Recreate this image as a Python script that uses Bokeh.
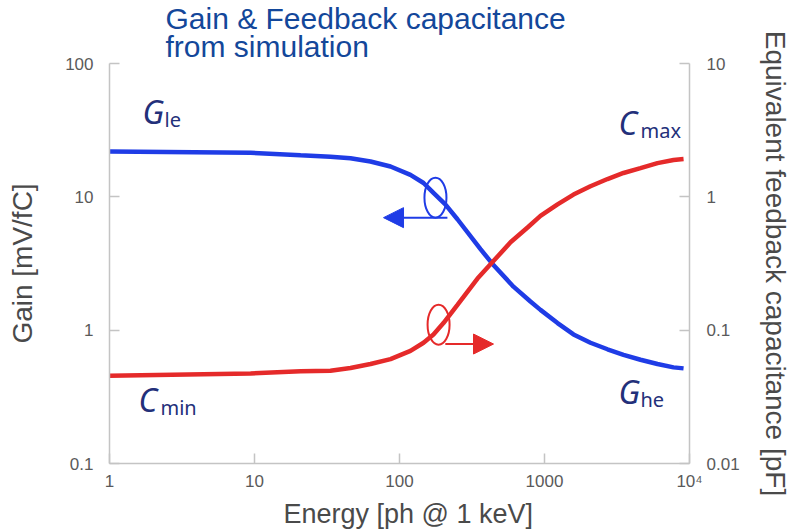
from bokeh.plotting import figure
from bokeh.models import (LogAxis, Range1d, FixedTicker, Label, Arrow, NormalHead,
                          LogScale, CustomJSTickFormatter, Title)
from bokeh.embed import file_html
from bokeh.resources import INLINE

# ---------------- data ----------------
energy_gain = [1, 9.4, 20.8, 33.4, 45.9, 63.1, 86.7, 119, 146.5, 171.5, 207, 251, 362,
               438, 611, 800, 938, 1230, 1585, 2075, 2718, 3506, 4592, 6012, 7762, 9100]
gain = [21.9, 21.4, 20.5, 20.0, 19.5, 18.4, 16.9, 14.6, 12.7, 10.7, 8.77, 6.79, 4.05,
        3.14, 2.12, 1.64, 1.42, 1.13, 0.929, 0.805, 0.719, 0.653, 0.600, 0.557, 0.526,
        0.517]

energy_cap = [1, 9.4, 20.8, 33.4, 45.9, 63.1, 86.7, 119, 146.5, 171.5, 201, 251, 345,
              438, 583, 764, 938, 1230, 1585, 2075, 2718, 3506, 4592, 6012, 7762, 9100]
cap = [0.0456, 0.0474, 0.0491, 0.0497, 0.0520, 0.0557, 0.0607, 0.0699, 0.0805, 0.0929,
       0.113, 0.155, 0.244, 0.324, 0.456, 0.589, 0.719, 0.877, 1.04, 1.20, 1.36, 1.51,
       1.64, 1.79, 1.89, 1.92]

x_ticks = [1, 10, 100, 1000, 10000]
gain_ticks = [0.1, 1, 10, 100]
cap_ticks = [0.01, 0.1, 1, 10]

title_text = "Gain & Feedback capacitance\nfrom simulation"
x_title = "Energy [ph @ 1 keV]"
y_title = "Gain [mV/fC]"
y2_title = "Equivalent feedback capacitance [pF]"

# annotation markers (ellipse centres / arrows) in data units
gain_marker = dict(x=177, y=9.85)
gain_arrow = dict(x_start=214, x_end=77.6, y=6.98)
cap_marker = dict(x=186, y=0.11)
cap_arrow = dict(x_start=207, x_end=445, y=0.0787)

# ---------------- styles ----------------
BLUE = "#1f3ce6"
RED = "#e52a2a"
NAVY = "#23307a"
TITLE_C = "#13479a"
AX_C = "#c4c4c4"
TICK_TXT = "#5a5a5a"
LBL_TXT = "#4a4a4a"
FONT = "Liberation Sans"

p = figure(width=794, height=531, x_axis_type="log", y_axis_type="log",
           x_range=Range1d(1, 10000), y_range=Range1d(0.1, 100),
           output_backend="svg", toolbar_location=None,
           min_border_left=109, min_border_right=105, min_border_top=59,
           min_border_bottom=67)
p.title.visible = False
p.xgrid.visible = False
p.ygrid.visible = False
p.outline_line_color = None
p.background_fill_color = "white"
p.border_fill_color = "white"

p.extra_y_ranges = {"cap": Range1d(0.01, 10)}
p.extra_y_scales = {"cap": LogScale()}
rax = LogAxis(y_range_name="cap")
p.add_layout(rax, "right")

fmt_code = "return tick >= 10000 ? '10\u2074' : String(tick);"

def style_axis(ax, ticks):
    ax.ticker = FixedTicker(ticks=ticks)
    ax.formatter = CustomJSTickFormatter(code=fmt_code)
    ax.axis_line_color = AX_C
    ax.axis_line_width = 1.5
    ax.major_tick_line_color = AX_C
    ax.major_tick_line_width = 1.5
    ax.major_tick_in = 10
    ax.major_tick_out = 0
    ax.minor_tick_line_color = None
    ax.major_label_text_font = FONT
    ax.major_label_text_font_size = "17px"
    ax.major_label_text_color = TICK_TXT
    ax.axis_label_text_font = FONT
    ax.axis_label_text_font_size = "28px"
    ax.axis_label_text_font_style = "normal"
    ax.axis_label_text_color = LBL_TXT

style_axis(p.xaxis[0], x_ticks)
p.xaxis[0].major_label_standoff = 8
style_axis(p.yaxis[0], gain_ticks)
p.yaxis[0].major_label_standoff = 16
p.yaxis[0].axis_label = y_title
p.yaxis[0].axis_label_standoff = 24
style_axis(rax, cap_ticks)
rax.major_label_standoff = 17
rax.axis_label = y2_title
rax.axis_label_standoff = 17

# titles (top title and x-axis title)
p.add_layout(Title(text=title_text, align="left", offset=56, standoff=0,
                   text_font=FONT, text_font_size="30px", text_font_style="normal",
                   text_color=TITLE_C, text_line_height=0.85), "above")
p.add_layout(Title(text=x_title, align="left", offset=174, standoff=6,
                   text_font=FONT, text_font_size="27px", text_font_style="normal",
                   text_color=LBL_TXT), "below")

# curves
p.line(energy_gain, gain, line_color=BLUE, line_width=4.5)
p.line(energy_cap, cap, line_color=RED, line_width=4.5, y_range_name="cap")

# ellipses + arrows
p.ellipse(x=[gain_marker["x"]], y=[gain_marker["y"]], width=22, height=40,
          width_units="screen", height_units="screen", fill_color=None,
          line_color=BLUE, line_width=2)
p.ellipse(x=[cap_marker["x"]], y=[cap_marker["y"]], width=22, height=40,
          width_units="screen", height_units="screen", fill_color=None,
          line_color=RED, line_width=2, y_range_name="cap")
p.add_layout(Arrow(end=NormalHead(size=20, fill_color=BLUE, line_color=BLUE),
                   x_start=gain_arrow["x_start"], y_start=gain_arrow["y"],
                   x_end=gain_arrow["x_end"], y_end=gain_arrow["y"],
                   line_color=BLUE, line_width=2))
p.add_layout(Arrow(end=NormalHead(size=20, fill_color=RED, line_color=RED),
                   x_start=cap_arrow["x_start"], y_start=cap_arrow["y"],
                   x_end=cap_arrow["x_end"], y_end=cap_arrow["y"],
                   line_color=RED, line_width=2, y_range_name="cap"))

# curve name annotations (screen units relative to frame)
def sym(x, y, main, sub):
    p.add_layout(Label(x=x, y=y, x_units="screen", y_units="screen", text=main,
                       text_font="Noto Sans", text_font_style="italic",
                       text_font_size="32px", text_color=NAVY,
                       text_baseline="alphabetic"))
    p.add_layout(Label(x=x + 22, y=y - 8, x_units="screen", y_units="screen", text=sub,
                       text_font="Noto Sans", text_font_size="20px",
                       text_color=NAVY, text_baseline="alphabetic"))

sym(33, 352, "G", "le")
sym(509, 341, "C", "max")
sym(29, 64, "C", "min")
sym(509, 72, "G", "he")

open("out.html", "w").write(file_html(p, INLINE))
